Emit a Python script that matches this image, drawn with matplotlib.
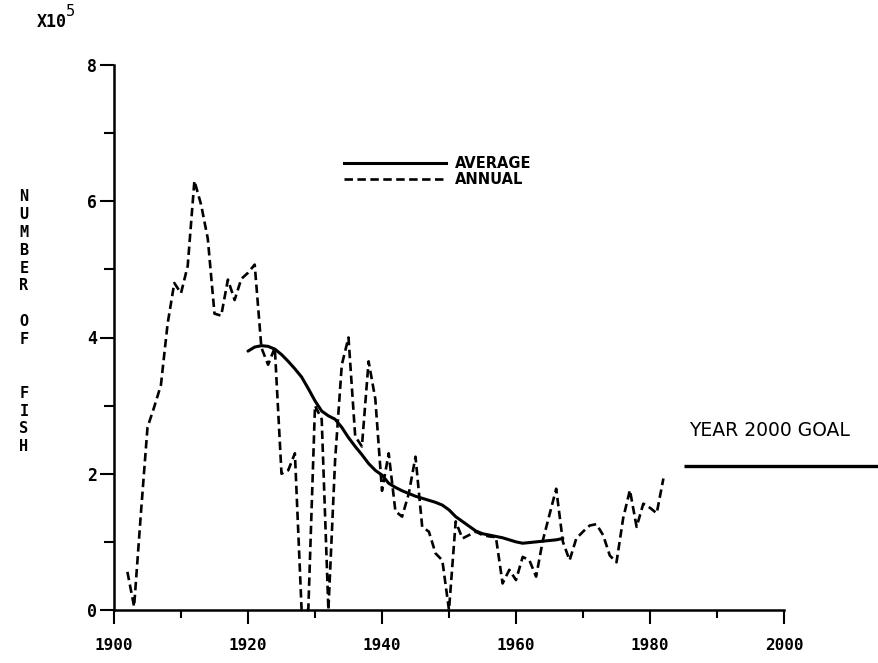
import matplotlib
matplotlib.use("Agg")
import matplotlib.pyplot as plt
from matplotlib.ticker import MultipleLocator
from matplotlib.lines import Line2D

# ---- data (units of 1e5 fish) ----
annual_years = list(range(1902, 1983))
annual_values = [
    0.56, 0.05, 1.4, 2.68, 2.98, 3.3, 4.2, 4.8, 4.65, 5.05,      # 1902-1911
    6.3, 5.95, 5.45, 4.35, 4.32, 4.85, 4.55, 4.86, 4.95, 5.07,   # 1912-1921
    3.85, 3.6, 3.85, 2.0, 2.05, 2.3, 0.0, 0.0, 3.0, 2.8,         # 1922-1931
    0.0, 2.2, 3.6, 4.0, 2.55, 2.4, 3.65, 3.1, 1.75, 2.3,         # 1932-1941
    1.45, 1.37, 1.71, 2.25, 1.22, 1.15, 0.83, 0.73, 0.0, 1.3,    # 1942-1951
    1.05, 1.1, 1.15, 1.1, 1.08, 1.07, 0.39, 0.59, 0.44, 0.78,    # 1952-1961
    0.73, 0.49, 1.02, 1.4, 1.78, 1.0, 0.73, 1.05, 1.15, 1.24,    # 1962-1971
    1.26, 1.1, 0.8, 0.7, 1.35, 1.76, 1.22, 1.56, 1.5, 1.42,      # 1972-1981
    1.93,                                                        # 1982
]
average_years = list(range(1920, 1968))
average_values = [
    3.8, 3.86, 3.88, 3.87, 3.83, 3.75, 3.65, 3.54, 3.42, 3.25,   # 1920-1929
    3.07, 2.92, 2.85, 2.8, 2.68, 2.53, 2.4, 2.28, 2.15, 2.05,    # 1930-1939
    1.98, 1.86, 1.8, 1.75, 1.71, 1.67, 1.64, 1.61, 1.58, 1.54,   # 1940-1949
    1.47, 1.37, 1.3, 1.23, 1.16, 1.12, 1.1, 1.08, 1.06, 1.03,    # 1950-1959
    1.0, 0.98, 0.99, 1.0, 1.01, 1.02, 1.03, 1.05,                # 1960-1967
]
goal_years = [1985, 2014]
goal_value = 2.12
goal_label = "YEAR 2000 GOAL"
x_ticks = [1900, 1920, 1940, 1960, 1980, 2000]
y_ticks = [0, 2, 4, 6, 8]
series_labels = ["AVERAGE", "ANNUAL"]

W, H = 879, 663
fig = plt.figure(figsize=(W / 100, H / 100), dpi=100)
ax = fig.add_axes([114 / W, 1 - 610 / H, (784 - 114) / W, (610 - 65) / H])

mono_bold = dict(family="DejaVu Sans Mono", weight="bold")

dash = (0, (3.2, 1.7))
ax.plot(annual_years, annual_values, color="black", lw=1.9, linestyle=dash,
        clip_on=False, zorder=3)
ax.plot(average_years, average_values, color="black", lw=2.2,
        solid_capstyle="round", zorder=4)
ax.plot(goal_years, [goal_value, goal_value], color="black", lw=2.4,
        clip_on=False, solid_capstyle="butt")
ax.text(1985.8, 2.63, goal_label, fontsize=13.5, family="DejaVu Sans",
        color="black", ha="left", va="center")

ax.set_xlim(1900, 2000)
ax.set_ylim(0, 8)
for s in ["top", "right"]:
    ax.spines[s].set_visible(False)
for s in ["left", "bottom"]:
    ax.spines[s].set_linewidth(1.8)

ax.set_xticks(x_ticks)
ax.set_xticklabels([str(t) for t in x_ticks], **mono_bold, fontsize=11.5)
ax.xaxis.set_minor_locator(MultipleLocator(10))
ax.set_yticks(y_ticks)
ax.set_yticklabels([str(t) for t in y_ticks], **mono_bold, fontsize=12)
ax.yaxis.set_minor_locator(MultipleLocator(1))
ax.tick_params(axis="x", which="major", direction="out", length=10, width=1.5, pad=10)
ax.tick_params(axis="x", which="minor", direction="out", length=6, width=1.5)
ax.tick_params(axis="y", which="major", direction="out", length=10, width=1.5, pad=2)
ax.tick_params(axis="y", which="minor", direction="out", length=7, width=1.5)

handles = [Line2D([], [], color="black", lw=2.2),
           Line2D([], [], color="black", lw=1.9, linestyle=dash)]
leg = ax.legend(handles, series_labels, loc="upper left",
                bbox_to_anchor=(0.332, 0.847), frameon=False, handlelength=7.0,
                handletextpad=0.6, labelspacing=0.1, borderpad=0,
                prop=dict(family="DejaVu Sans", weight="bold", size=10.5))

# y-axis title (vertical stacked letters)
fig.text(24 / W, 1 - 189 / H, "N\nU\nM\nB\nE\nR\n\nO\nF\n\n\nF\nI\nS\nH",
         ha="center", va="top", fontsize=11, linespacing=1.24, **mono_bold)

# multiplier
fig.text(37 / W, 1 - 22 / H, "X10", ha="left", va="center", fontsize=12,
         **mono_bold)
fig.text(66 / W, 1 - 11 / H, "5", ha="left", va="center", fontsize=11,
         family="DejaVu Sans Mono")

fig.savefig("out.png", dpi=100)
